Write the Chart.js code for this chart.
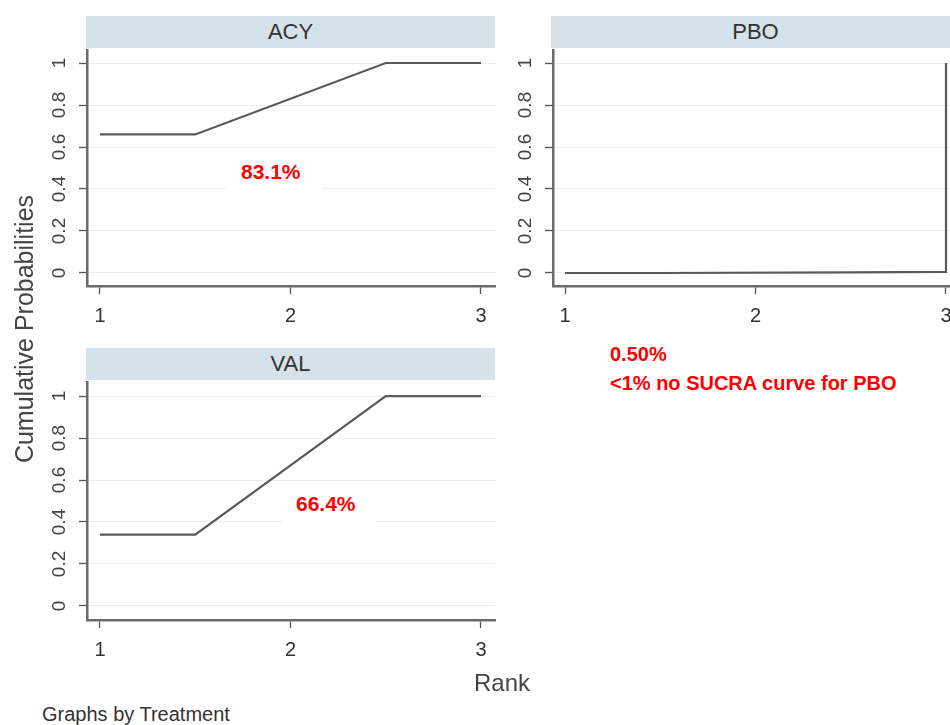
<!DOCTYPE html>
<html>
<head>
<meta charset="utf-8">
<script src="https://cdn.jsdelivr.net/npm/chart.js@4.4.1/dist/chart.umd.min.js"></script>
<style>
  body { margin: 0; background: #fff; width: 950px; height: 725px; position: relative; overflow: hidden;
         font-family: "Liberation Sans", Arial, sans-serif; }
  canvas { position: absolute; }
  .head { position: absolute; background: #d6e2e9; color: #333; font-size: 22px; text-align: center;
          height: 32px; line-height: 32px; }
  .note { position: absolute; color: #ff0000; font-weight: bold; font-size: 21px; background: #fff;
          box-sizing: border-box; line-height: 20px; }
  .txt { position: absolute; color: #333; white-space: nowrap; }
</style>
</head>
<body>
<div class="head" style="left:86px;top:16px;width:409px;">ACY</div>
<div class="head" style="left:551px;top:16px;width:409px;">PBO</div>
<div class="head" style="left:86px;top:348px;width:409px;">VAL</div>

<canvas id="acy" width="500" height="300" style="left:0;top:40px;"></canvas>
<canvas id="pbo" width="500" height="300" style="left:466px;top:40px;"></canvas>
<canvas id="val" width="500" height="300" style="left:0;top:372px;"></canvas>

<div class="note" style="left:226px;top:152px;width:96px;height:42px;padding:10px 0 0 15px;">83.1%</div>
<div class="note" style="left:282px;top:484px;width:95px;height:42px;padding:10px 0 0 14px;">66.4%</div>
<div class="note" style="left:610px;top:340px;line-height:29px;font-size:20px;background:none;">0.50%<br>&lt;1% no SUCRA curve for PBO</div>

<div class="txt" style="left:0;top:0;width:48px;height:660px;">
  <div style="position:absolute;left:24px;top:329px;transform:translate(-50%,-50%) rotate(-90deg);font-size:25px;color:#444;">Cumulative Probabilities</div>
</div>
<div class="txt" style="left:474px;top:669px;font-size:24px;color:#444;">Rank</div>
<div class="txt" style="left:42px;top:703px;font-size:20px;">Graphs by Treatment</div>

<script>
// ---- data ----
const xTicks = [1, 2, 3];
const yTicks = [0, 0.2, 0.4, 0.6, 0.8, 1];
const yTickLabels = ['0', '0.2', '0.4', '0.6', '0.8', '1'];

// cumulative ranking probabilities
const acyRank = [1, 1.5, 2.5, 3];
const acyCum  = [0.66, 0.66, 1, 1];
const pboRank = [1, 1.5, 2.5, 3, 3];
const pboCum  = [0, 0, 0.003, 0.005, 1];
const valRank = [1, 1.5, 2.5, 3];
const valCum  = [0.34, 0.34, 1, 1];

// rotated y tick labels (Stata style)
const yLabelPlugin = {
  id: 'yLabels',
  afterDraw(chart) {
    const s = chart.scales.y, ctx = chart.ctx;
    ctx.save();
    ctx.font = '19px "Liberation Sans", Arial, sans-serif';
    ctx.fillStyle = '#444';
    ctx.textAlign = 'center';
    ctx.textBaseline = 'middle';
    yTicks.forEach((v, i) => {
      const y = s.getPixelForValue(v);
      ctx.save();
      ctx.translate(s.right - 27, y);
      ctx.rotate(-Math.PI / 2);
      ctx.fillText(yTickLabels[i], 0, 0);
      ctx.restore();
    });
    ctx.restore();
  }
};

function makePanel(id, xs, ys, opts) {
  return new Chart(document.getElementById(id), {
    type: 'line',
    data: {
      datasets: [{
        data: xs.map((x, i) => ({ x: x, y: ys[i] })),
        borderColor: '#5a5a5a', borderWidth: 2.2,
        pointRadius: 0, tension: 0, fill: false, clip: false
      }]
    },
    options: {
      responsive: false, animation: false,
      layout: { padding: opts.padding },
      plugins: { legend: { display: false }, tooltip: { enabled: false } },
      scales: {
        x: {
          type: 'linear', min: opts.xMin, max: opts.xMax,
          afterBuildTicks: s => { s.ticks = xTicks.map(v => ({ value: v })); },
          afterFit: s => { s.height = 40; },
          grid: { drawOnChartArea: false, tickLength: 8, tickColor: '#555', tickWidth: 1.3 },
          border: { color: '#6a6a6a', width: 2.5 },
          ticks: { color: '#333', font: { size: 20, family: '"Liberation Sans", Arial' },
                   padding: 10, maxRotation: 0, autoSkip: false, callback: v => String(v) }
        },
        y: {
          min: opts.yMin, max: opts.yMax,
          afterBuildTicks: s => { s.ticks = yTicks.map(v => ({ value: v })); },
          afterFit: s => { s.width = 40; },
          grid: { color: '#e7eff1', lineWidth: 1, tickLength: 8, tickColor: '#555', tickWidth: 1.3 },
          border: { color: '#6a6a6a', width: 2.5 },
          ticks: { display: false }
        }
      }
    },
    plugins: [yLabelPlugin]
  });
}

makePanel('acy', acyRank, acyCum, {
  padding: { left: 47, top: 10, right: 5, bottom: 14 },
  xMin: 0.9318, xMax: 3.0735, yMin: -0.062, yMax: 1.062
});
makePanel('pbo', pboRank, pboCum, {
  padding: { left: 47, top: 10, right: 16, bottom: 14 },
  xMin: 0.937, xMax: 3.021, yMin: -0.062, yMax: 1.062
});
makePanel('val', valRank, valCum, {
  padding: { left: 47, top: 10, right: 5, bottom: 12 },
  xMin: 0.9318, xMax: 3.0735, yMin: -0.067, yMax: 1.067
});
</script>
</body>
</html>
